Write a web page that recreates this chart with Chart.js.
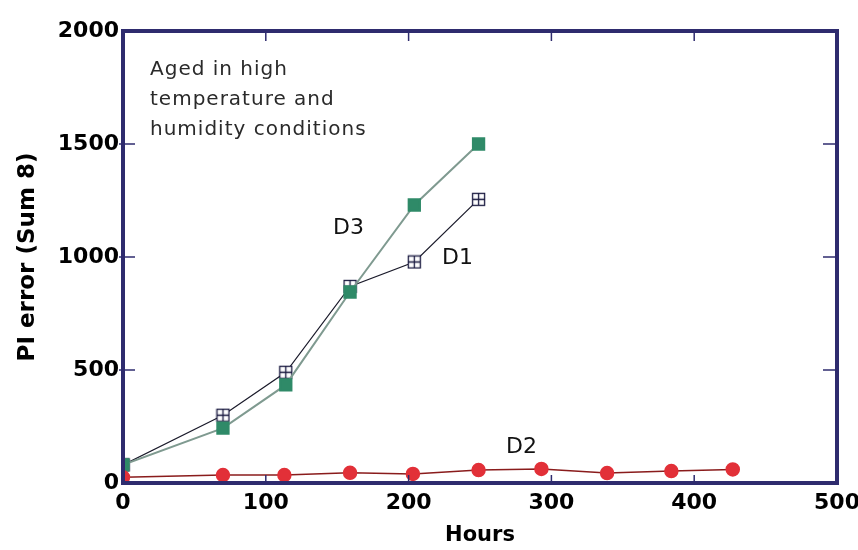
<!DOCTYPE html>
<html>
<head>
<meta charset="utf-8">
<script src="https://cdn.jsdelivr.net/npm/chart.js@4/dist/chart.umd.min.js"></script>
<style>
  html, body { margin: 0; padding: 0; background: #fff; }
  #wrap { width: 858px; height: 550px; position: relative; }
</style>
</head>
<body>
<div id="wrap"><canvas id="pi-chart"></canvas></div>
<script>
// hours / PI error
const d1Hours = [0, 70, 114, 159, 204, 249];
const d1Error = [80, 300, 490, 870, 978, 1255];

const d3Hours = [0, 70, 114, 159, 204, 249];
const d3Error = [80, 243, 434, 845, 1230, 1500];

const d2Hours = [0, 70, 113, 159, 203, 249, 293, 339, 384, 427];
const d2Error = [25, 35, 35, 45, 40, 57, 62, 44, 53, 60];

const xTicks = [0, 100, 200, 300, 400, 500];
const yTicks = [0, 500, 1000, 1500, 2000];

const navy = '#2e2b6e';
const font = '"DejaVu Sans", Verdana, sans-serif';

function pts(xs, ys) {
  return xs.map((x, i) => ({ x: x, y: ys[i] }));
}

// open square with a cross in it for D1
function crossBox() {
  let c = document.createElement('canvas');
  c.width = 15; c.height = 15;
  let g = c.getContext('2d');
  g.fillStyle = '#fff';
  g.fillRect(1, 1, 13, 13);
  g.strokeStyle = '#1a1a40';
  g.lineWidth = 1.3;
  g.strokeRect(1.5, 1.5, 12, 12);
  g.beginPath();
  g.moveTo(7.5, 1.5); g.lineTo(7.5, 13.5);
  g.moveTo(1.5, 7.5); g.lineTo(13.5, 7.5);
  g.stroke();
  return c;
}

const frame = {
  id: 'frame',
  afterDatasetsDraw(chart) {
    const { ctx, chartArea: a } = chart;
    ctx.save();
    ctx.strokeStyle = navy;
    ctx.lineWidth = 4;
    ctx.strokeRect(a.left, a.top, a.right - a.left, a.bottom - a.top);
    const xs = chart.scales.x, ys = chart.scales.y;
    ctx.lineWidth = 1.5;
    xTicks.slice(1, -1).forEach(v => {
      const px = xs.getPixelForValue(v);
      ctx.beginPath(); ctx.moveTo(px, a.top); ctx.lineTo(px, a.top + 10); ctx.stroke();
      ctx.beginPath(); ctx.moveTo(px, a.bottom); ctx.lineTo(px, a.bottom - 8); ctx.stroke();
    });
    yTicks.slice(1, -1).forEach(v => {
      const py = ys.getPixelForValue(v);
      ctx.beginPath(); ctx.moveTo(a.right, py); ctx.lineTo(a.right - 14, py); ctx.stroke();
      ctx.beginPath(); ctx.moveTo(a.left - 4, py); ctx.lineTo(a.left + 12, py); ctx.stroke();
    });
    // annotation text
    ctx.fillStyle = '#2a2a2a';
    ctx.font = '20px ' + font;
    ctx.letterSpacing = '1px';
    ctx.textBaseline = 'middle';
    ctx.fillText('Aged in high', 150, 70);
    ctx.fillText('temperature and', 150, 100);
    ctx.fillText('humidity conditions', 150, 130);
    ctx.letterSpacing = '0px';
    ctx.font = '22px ' + font;
    ctx.fillStyle = '#111';
    ctx.fillText('D3', 333, 228);
    ctx.fillText('D1', 442, 258);
    ctx.fillText('D2', 506, 447);
    ctx.restore();
  }
};

new Chart(document.getElementById('pi-chart'), {
  type: 'line',
  data: {
    datasets: [
      {
        label: 'D2',
        data: pts(d2Hours, d2Error),
        borderColor: '#8a1c1c',
        borderWidth: 1.5,
        pointStyle: 'circle',
        pointRadius: 6.5,
        pointBackgroundColor: '#e23038',
        pointBorderColor: '#e23038',
        tension: 0
      },
      {
        label: 'D3',
        data: pts(d3Hours, d3Error),
        borderColor: '#7f9a90',
        borderWidth: 2,
        pointStyle: 'rect',
        pointRadius: 8,
        pointBackgroundColor: '#2f8a68',
        pointBorderColor: '#2f8a68',
        tension: 0
      },
      {
        label: 'D1',
        data: pts(d1Hours, d1Error),
        borderColor: '#1a1a2a',
        borderWidth: 1.2,
        pointStyle: crossBox(),
        tension: 0
      }
    ]
  },
  options: {
    responsive: true,
    maintainAspectRatio: false,
    animation: false,
    layout: { padding: { left: 0, top: 31, right: 21, bottom: 0 } },
    plugins: {
      legend: { display: false },
      tooltip: { enabled: false }
    },
    scales: {
      x: {
        type: 'linear',
        min: 0, max: 500,
        afterFit(s) { s.height = 67; s.paddingLeft = 0; s.paddingRight = 0; },
        afterBuildTicks(s) { s.ticks = xTicks.map(v => ({ value: v })); },
        grid: { drawOnChartArea: false, drawTicks: false },
        border: { display: false },
        ticks: {
          padding: 7,
          color: '#000',
          callback: v => String(v),
          font: { family: font, size: 22, weight: 'bold' }
        },
        title: {
          display: true,
          text: 'Hours',
          color: '#000',
          padding: { top: 0, bottom: 2 },
          font: { family: font, size: 21, weight: 'bold' }
        }
      },
      y: {
        type: 'linear',
        min: 0, max: 2000,
        afterFit(s) { s.width = 123; s.paddingTop = 0; s.paddingBottom = 0; },
        afterBuildTicks(s) { s.ticks = yTicks.map(v => ({ value: v })); },
        grid: { drawOnChartArea: false, drawTicks: false },
        border: { display: false },
        ticks: {
          padding: 4,
          color: '#000',
          callback: v => String(v),
          font: { family: font, size: 22, weight: 'bold' }
        },
        title: {
          display: true,
          text: 'PI error (Sum 8)',
          color: '#000',
          padding: { top: 14, bottom: 4 },
          font: { family: font, size: 23, weight: 'bold' }
        }
      }
    }
  },
  plugins: [frame]
});
</script>
</body>
</html>
